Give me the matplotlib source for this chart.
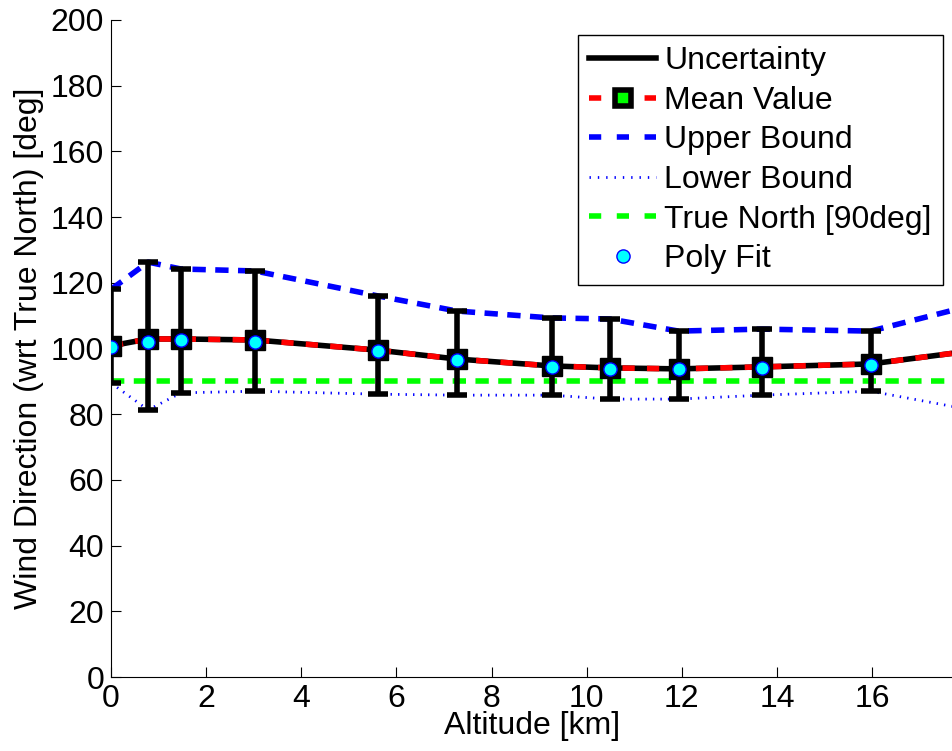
import numpy as np
import matplotlib
matplotlib.use("Agg")
import matplotlib.pyplot as plt
from matplotlib.lines import Line2D

plt.rcParams['font.family'] = ['Liberation Sans', 'DejaVu Sans']

# altitude [km]
alt = [0.0, 0.78, 1.47, 3.03, 5.61, 7.27, 9.26, 10.48, 11.93, 13.68, 15.97, 18.2]
# mean wind direction [deg]
mean_val = [100.8, 102.9, 102.9, 102.6, 99.5, 96.8, 94.7, 94.1, 93.8, 94.4, 95.3, 99.5]
upper = [118.0, 126.3, 124.2, 123.6, 116.0, 111.4, 109.3, 109.0, 105.3, 105.9, 105.3, 113.5]
lower = [89.5, 81.3, 86.5, 87.0, 86.1, 85.8, 85.8, 84.6, 84.6, 85.8, 87.0, 81.0]
poly_fit = [100.4, 102.1, 102.5, 102.0, 99.1, 96.5, 94.4, 93.9, 93.7, 94.1, 95.1, 99.0]
true_north = 90

alt = np.array(alt)
mean_val = np.array(mean_val)
upper = np.array(upper)
lower = np.array(lower)

fs = 23

fig = plt.figure(figsize=(9.53, 7.51), dpi=100)
ax = fig.add_axes([0.1165, 0.0985, 0.8835, 0.8749])

# uncertainty (errorbar)
ax.errorbar(alt, mean_val, yerr=[mean_val - lower, upper - mean_val],
            color='k', lw=4, elinewidth=4, capsize=7.5, capthick=4, zorder=3)
# bounds
ax.plot(alt, upper, '--', color='#0000ff', lw=4, dashes=(2.4, 1.7), zorder=2)
ax.plot(alt, lower, ':', color='#0000ff', lw=2, dashes=(0.5, 2.2), zorder=2)
ax.axhline(true_north, color='#00ff00', lw=4, ls='--', dashes=(2.4, 1.7), zorder=2)
# mean value
ax.plot(alt, mean_val, '--', color='#ff0000', lw=4, dashes=(2.2, 2.2), zorder=4)
ax.plot(alt, mean_val, 's', ms=15, mfc='k', mec='k', zorder=5)
# poly fit
ax.plot(alt, poly_fit, 'o', ms=9.5, mfc='#00ffff', mec='#0000ff', mew=1, zorder=6)

ax.set_xlim(0, 17.7)
ax.set_ylim(0, 200)
ax.set_xticks(np.arange(0, 17, 2))
ax.set_yticks(np.arange(0, 201, 20))
ax.tick_params(direction='in', labelsize=fs, length=7, width=0.8, pad=5,
               top=False, right=False)
ax.spines['top'].set_visible(False)
ax.spines['right'].set_visible(False)
ax.set_xlabel('Altitude [km]', fontsize=fs, labelpad=-2)
ax.set_ylabel('Wind Direction (wrt True North) [deg]', fontsize=fs, labelpad=5)

handles = [
    Line2D([], [], color='k', lw=4),
    Line2D([], [], color='#ff0000', lw=4, ls='--', dashes=(2.2, 2.8),
           marker='s', ms=12, mfc='#00ff00', mec='k', mew=4),
    Line2D([], [], color='#0000ff', lw=4, ls='--', dashes=(2.2, 2.8)),
    Line2D([], [], color='#0000ff', lw=2, ls=':', dashes=(0.5, 2.5)),
    Line2D([], [], color='#00ff00', lw=4, ls='--', dashes=(2.2, 2.8)),
    Line2D([], [], ls='none', marker='o', ms=9.5, mfc='#00ffff', mec='#0000ff'),
]
labels = ['Uncertainty', 'Mean Value', 'Upper Bound', 'Lower Bound',
          'True North [90deg]', 'Poly Fit']
leg = ax.legend(handles, labels, loc='upper right', bbox_to_anchor=(0.988, 0.977),
                fontsize=fs, fancybox=False, edgecolor='k', framealpha=1,
                handlelength=2.1, handletextpad=0.25, labelspacing=0.3,
                borderpad=0.35, borderaxespad=0)
leg.get_frame().set_linewidth(1)

fig.savefig('out.png', dpi=100)
